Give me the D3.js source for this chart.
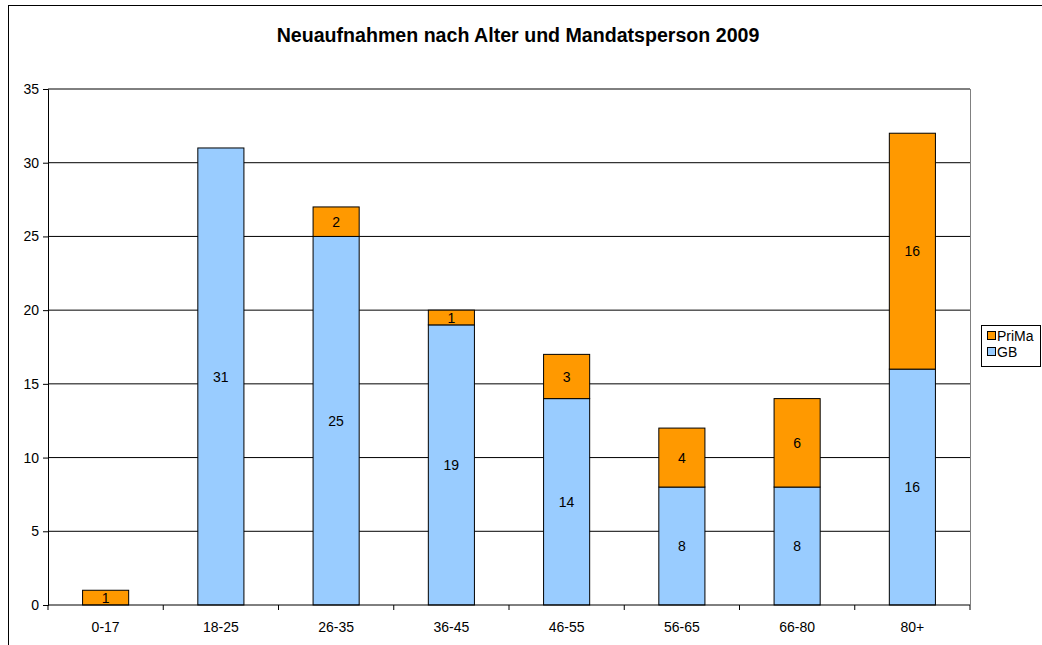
<!DOCTYPE html>
<html><head><meta charset="utf-8">
<script src="https://cdn.jsdelivr.net/npm/d3@7"></script>
<style>body{margin:0;background:#fff;} text{font-family:"Liberation Sans",Arial,sans-serif;}</style>
</head><body>
<svg id="c" width="1042" height="645"></svg>
<script>
const categories = ["0-17","18-25","26-35","36-45","46-55","56-65","66-80","80+"];
const gbValues = [0,31,25,19,14,8,8,16];
const primaValues = [1,0,2,1,3,4,6,16];
const yTicks = [0,5,10,15,20,25,30,35];
const seriesNames = ["GB","PriMa"];
const seriesColors = ["#99CCFF","#FF9900"];
const title = "Neuaufnahmen nach Alter und Mandatsperson 2009";

const svg = d3.select("#c");
const L = 48, R = 970, T = 89, B = 605;
const FF = "Liberation Sans, Arial, sans-serif";

svg.append("rect").attr("x",8.5).attr("y",5.5).attr("width",1040).attr("height",645)
  .attr("fill","#fff").attr("stroke","#000").attr("stroke-width",1);

const x = d3.scaleBand().domain(categories).range([L,R]);
const y = d3.scaleLinear().domain([0,35]).range([B,T]);

// gridlines
svg.append("g").selectAll("line").data(yTicks.filter(d=>d>0)).join("line")
  .attr("x1",L).attr("x2",R).attr("y1",d=>y(d)).attr("y2",d=>y(d))
  .attr("stroke","#000").attr("stroke-width",1);
// right border
svg.append("line").attr("x1",R+0.5).attr("x2",R+0.5).attr("y1",T).attr("y2",B)
  .attr("stroke","#808080");

const rows = categories.map((c,i)=>({cat:c, GB:gbValues[i], PriMa:primaValues[i]}));
const stack = d3.stack().keys(seriesNames)(rows);
const bw = x.bandwidth()*0.4;

stack.forEach((s,si)=>{
  const g = svg.append("g");
  g.selectAll("rect").data(s.filter(d=>d[1]-d[0]>0)).join("rect")
    .attr("x",d=>x(d.data.cat)+x.bandwidth()/2-bw/2)
    .attr("y",d=>y(d[1]))
    .attr("width",bw)
    .attr("height",d=>y(d[0])-y(d[1]))
    .attr("fill",seriesColors[si]).attr("stroke","#000").attr("stroke-width",1);
  g.selectAll("text").data(s.filter(d=>d[1]-d[0]>0)).join("text")
    .attr("x",d=>x(d.data.cat)+x.bandwidth()/2)
    .attr("y",d=>(y(d[0])+y(d[1]))/2)
    .attr("dy","0.36em").attr("text-anchor","middle")
    .attr("font-size",14).attr("fill","#000")
    .text(d=>d[1]-d[0]);
});

// y axis
const ya = svg.append("g").attr("transform",`translate(${L},0)`)
  .call(d3.axisLeft(y).tickValues(yTicks).tickSize(5).tickPadding(4).tickFormat(d3.format("d")));
ya.select(".domain").attr("stroke","#000");
ya.selectAll(".tick line").attr("stroke","#000");
ya.selectAll("text").attr("font-size",14).attr("font-family",FF).attr("fill","#000");

// x axis
const xa = svg.append("g").attr("transform",`translate(0,${B})`)
  .call(d3.axisBottom(x).tickSize(0).tickPadding(17));
xa.select(".domain").remove();
xa.append("line").attr("x1",L).attr("x2",R).attr("stroke","#000");
xa.selectAll(".tick text").attr("font-size",14).attr("font-family",FF).attr("fill","#000");
xa.selectAll("line.sep").data(categories.map((c,i)=>i).concat([categories.length])).join("line")
  .attr("class","sep")
  .attr("x1",i=>i<categories.length? x(categories[i]) : R)
  .attr("x2",i=>i<categories.length? x(categories[i]) : R)
  .attr("y1",0).attr("y2",5).attr("stroke","#000");

// title
svg.append("text").attr("x",518).attr("y",42).attr("text-anchor","middle")
  .attr("font-size",19.6).attr("font-weight","bold").text(title);

// legend
const lg = svg.append("g");
lg.append("rect").attr("x",981.5).attr("y",325.5).attr("width",59).attr("height",41)
  .attr("fill","#fff").attr("stroke","#000");
const legendItems = [{n:"PriMa",c:seriesColors[1]},{n:"GB",c:seriesColors[0]}];
legendItems.forEach((d,i)=>{
  const cy = 336 + i*16;
  lg.append("rect").attr("x",987.5).attr("y",cy-4.5).attr("width",8).attr("height",8)
    .attr("fill",d.c).attr("stroke","#000");
  lg.append("text").attr("x",997).attr("y",cy).attr("dy","0.36em").attr("font-size",14).text(d.n);
});
</script>
</body></html>
